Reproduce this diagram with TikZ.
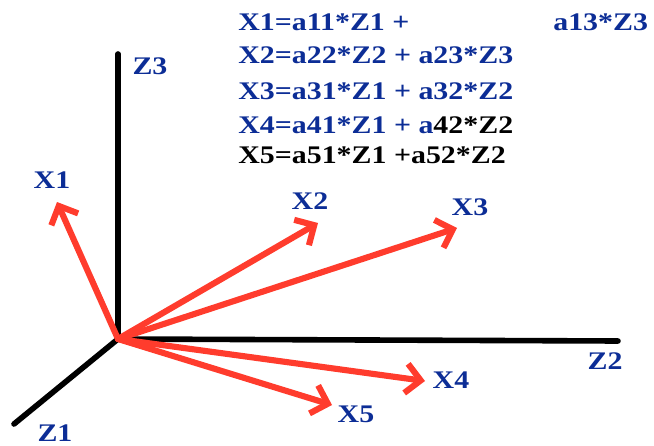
\documentclass[tikz,border=0pt]{standalone}
\usepackage{fontspec}
\setmainfont{Liberation Serif}
\usepackage{tikz}
\usetikzlibrary{arrows.meta}

\definecolor{eqblue}{RGB}{12,45,150}
\definecolor{vecred}{RGB}{255,60,45}

\tikzset{
    axis/.style={line width=4.2pt, line cap=round, black},
    vec/.style={line width=4.6pt, line cap=round, vecred,
        -{Straight Barb[length=11pt, width=22pt, line width=4.6pt]}},
    lbl/.style={font=\bfseries\fontsize{19}{22}\selectfont, text=eqblue, inner sep=0pt, xscale=1.18},
    eq/.style={lbl, anchor=base west},
}

\begin{document}
\begin{tikzpicture}[x=0.75pt, y=-0.75pt]
    \useasboundingbox (0,0) rectangle (654,446);

    % axes
    \coordinate (O) at (118,339);
    \coordinate (z3end) at (118,54);
    \coordinate (z2end) at (618,341);
    \coordinate (z1end) at (14,424);

    \draw[axis] (O) -- (z3end);
    \draw[axis] (O) -- (z2end);
    \draw[axis] (O) -- (z1end);

    \node[lbl] (z3) at (150,66) {Z3};
    \node[lbl] (z2) at (605,361) {Z2};
    \node[lbl] (z1) at (55,433) {Z1};

    % vectors
    \coordinate (x1tip) at (57,202);
    \coordinate (x2tip) at (318,223);
    \coordinate (x3tip) at (457,228);
    \coordinate (x4tip) at (425,381);
    \coordinate (x5tip) at (332,405);

    \draw[vec] (O) -- (x1tip);
    \draw[vec] (O) -- (x2tip);
    \draw[vec] (O) -- (x3tip);
    \draw[vec] (O) -- (x4tip);
    \draw[vec] (O) -- (x5tip);

    \node[lbl] (x1) at (52,180) {X1};
    \node[lbl] (x2) at (310,201) {X2};
    \node[lbl] (x3) at (470,207) {X3};
    \node[lbl] (x4) at (451,380) {X4};
    \node[lbl] (x5) at (356,414) {X5};

    % equations
    \node[eq] (eq1) at (238,31) {X1=a11*Z1 +};
    \node[eq] (eq1b) at (553,31) {a13*Z3};
    \node[eq] (eq2) at (238,63) {X2=a22*Z2 + a23*Z3};
    \node[eq] (eq3) at (238,99) {X3=a31*Z1 + a32*Z2};
    \node[eq] (eq4) at (238,133) {X4=a41*Z1 + a\textcolor{black}{42*Z2}};
    \node[eq, text=black] (eq5) at (238,163) {X5=a51*Z1 +a52*Z2};
\end{tikzpicture}
\end{document}
